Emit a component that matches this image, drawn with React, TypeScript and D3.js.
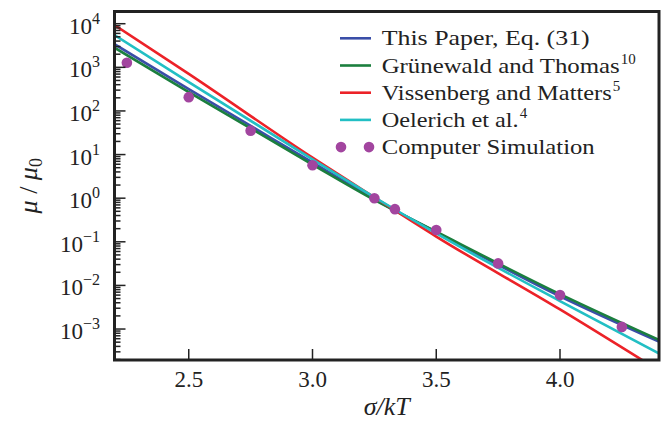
import React from 'react';
import * as d3 from 'd3';

// sampled curves (sigma/kT vs mu/mu0)
const curveX = [2.2, 2.5, 3.0, 3.25, 3.5, 4.0, 4.4];
const thisPaper = [3390, 316, 6.6, 0.955, 0.166, 0.00562, 0.000513];
const grunewald = [2820, 269, 5.9, 0.912, 0.17, 0.00631, 0.000562];
const vissenberg = [9330, 708, 8.5, 1.05, 0.132, 0.00282, 0.000112];
const oelerich = [5500, 457, 7.76, 1.05, 0.155, 0.00437, 0.000275];

// computer simulation points
const simX = [2.25, 2.5, 2.75, 3.0, 3.25, 3.333, 3.5, 3.75, 4.0, 4.25];
const simY = [1270, 207, 35.3, 5.7, 1.0, 0.56, 0.187, 0.032, 0.006, 0.00112];

const xTicks = [2.5, 3.0, 3.5, 4.0];
const yExps = [-3, -2, -1, 0, 1, 2, 3, 4];

const series = [
  { name: 'This Paper, Eq. (31)', sup: '', color: '#3a4ea8', values: thisPaper },
  { name: 'Grünewald and Thomas', sup: '10', color: '#1b7f3e', values: grunewald },
  { name: 'Vissenberg and Matters', sup: '5', color: '#ec2228', values: vissenberg },
  { name: 'Oelerich et al.', sup: '4', color: '#22bfc4', values: oelerich },
];
const simLabel = 'Computer Simulation';
const simColor = '#a2459f';

// approximate rendered widths of the legend labels in the original (Computer Modern)
const labelWidths = [208, 238, 230, 137, 213];

const fs = { fontFamily: '"Liberation Serif", "DejaVu Serif", "Times New Roman", Times, "Noto Serif", FreeSerif, serif' };

function App() {
  const W = 663;
  const H = 423;
  const left = 114.5, right = 659, top = 11.5, bottom = 360;

  const x = d3.scaleLinear().domain([2.2, 4.4]).range([left, right]);
  const y = d3.scaleLog().domain([Math.pow(10, -3.71), Math.pow(10, 4.28)]).range([bottom, top]);

  const line = d3.line<number>()
    .x((_, i) => x(curveX[i]))
    .y(d => y(d))
    .curve(d3.curveMonotoneX);

  // minor ticks on the log axis
  const minor: number[] = [];
  for (let e = -4; e <= 4; e++) {
    for (let k = 2; k <= 9; k++) {
      const v = k * Math.pow(10, e);
      const [lo, hi] = y.domain();
      if (v > lo && v < hi) minor.push(v);
    }
  }

  const rowH = 27.2;
  const legY0 = 38.3;
  const legX = 340;
  const textX = 381.7;

  return (
    <svg width={W} height={H} style={{ position: 'absolute', left: 0, top: 0 }}>
      <rect width={W} height={H} fill="white" />
      <defs>
        <clipPath id="plot">
          <rect x={left} y={top} width={right - left} height={bottom - top} />
        </clipPath>
      </defs>

      <g clipPath="url(#plot)">
        {series.map(s => (
          <path key={s.name} d={line(s.values) || ''} fill="none" stroke={s.color} strokeWidth={2.6} />
        ))}
        {simX.map((v, i) => (
          <circle key={i} cx={x(v)} cy={y(simY[i])} r={5.3} fill={simColor} />
        ))}
      </g>

      {/* ticks */}
      {minor.map(v => (
        <line key={'m' + v} x1={left} x2={left + 6} y1={y(v)} y2={y(v)} stroke="#222" strokeWidth={1.5} />
      ))}
      {yExps.map(e => (
        <line key={'M' + e} x1={left} x2={left + 11} y1={y(Math.pow(10, e))} y2={y(Math.pow(10, e))} stroke="#222" strokeWidth={1.5} />
      ))}
      {xTicks.map(t => (
        <line key={'x' + t} x1={x(t)} x2={x(t)} y1={bottom} y2={bottom - 11} stroke="#222" strokeWidth={1.5} />
      ))}

      <rect x={left} y={top} width={right - left} height={bottom - top} fill="none" stroke="#222" strokeWidth={3} />

      {/* tick labels */}
      {xTicks.map(t => (
        <text key={'xl' + t} x={x(t)} y={387} textAnchor="middle" fontSize={23} fill="#222" style={fs}>
          {t.toFixed(1)}
        </text>
      ))}
      {yExps.map(e => (
        <text key={'yl' + e} x={100} y={y(Math.pow(10, e)) + 10} textAnchor="end" fontSize={23} fill="#222" style={fs}>
          <tspan>10</tspan>
          <tspan dy={-10} fontSize={16}>{e < 0 ? '\u2212' + Math.abs(e) : String(e)}</tspan>
        </text>
      ))}

      {/* axis labels */}
      <text x={(left + right) / 2} y={415} textAnchor="middle" fontSize={26} fill="#222" fontStyle="italic" style={fs}>
        σ/kT
      </text>
      <text transform={`translate(37, ${(top + bottom) / 2}) rotate(-90)`} textAnchor="middle" fontSize={26} fill="#222" style={fs}>
        <tspan fontStyle="italic">μ</tspan>
        <tspan> / </tspan>
        <tspan fontStyle="italic">μ</tspan>
        <tspan dy={5} fontSize={18}>0</tspan>
      </text>

      {/* legend */}
      {series.map((s, i) => {
        const cy = legY0 + i * rowH;
        const w = labelWidths[i];
        return (
          <g key={'leg' + s.name}>
            <line x1={legX} x2={legX + 31} y1={cy} y2={cy} stroke={s.color} strokeWidth={2.6} />
            <text x={textX} y={cy + 7} fontSize={22} fill="#222" style={fs} textLength={w} lengthAdjust="spacingAndGlyphs">
              {s.name}
            </text>
            {s.sup && (
              <text x={textX + w + 1} y={cy - 2} fontSize={15} fill="#222" style={fs}>{s.sup}</text>
            )}
          </g>
        );
      })}
      <g>
        <circle cx={legX + 1} cy={legY0 + 4 * rowH} r={5.3} fill={simColor} />
        <circle cx={legX + 29} cy={legY0 + 4 * rowH} r={5.3} fill={simColor} />
        <text x={textX} y={legY0 + 4 * rowH + 7} fontSize={22} fill="#222" style={fs} textLength={labelWidths[4]} lengthAdjust="spacingAndGlyphs">
          {simLabel}
        </text>
      </g>
    </svg>
  );
}

export default App;
